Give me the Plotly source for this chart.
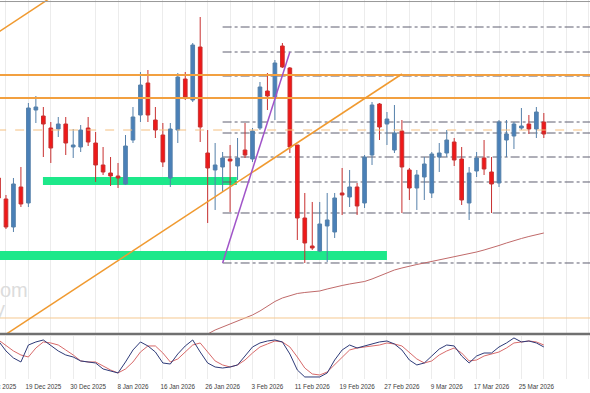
import plotly.graph_objects as go
import pandas as pd

# ---------------- data ----------------
holidays = ["2025-12-25", "2026-01-01"]
dates = [f"{d.day} {d.strftime('%b %Y')}" for d in pd.bdate_range("2025-12-11", "2026-03-26")
         if d.strftime("%Y-%m-%d") not in holidays]

tick_labels = ["11 Dec 2025", "19 Dec 2025", "30 Dec 2025", "8 Jan 2026", "16 Jan 2026",
               "26 Jan 2026", "3 Feb 2026", "11 Feb 2026", "19 Feb 2026", "27 Feb 2026",
               "9 Mar 2026", "17 Mar 2026", "25 Mar 2026"]

open_ = [222, 201, 173, 213, 197, 290, 284, 272, 271, 276, 253, 253, 272, 257, 235, 227, 224, 216,
         260, 285, 317, 280, 265, 222, 270, 321, 300, 353, 247, 230, 233, 241, 234, 250, 241, 272,
         309, 302, 354, 332, 255, 182, 154, 149, 174, 168, 207, 203, 213, 197, 245, 296, 276, 250,
         269, 230, 212, 223, 207, 243, 247, 258, 241, 197, 229, 242, 228, 217, 260, 264, 272, 276,
         271, 278]
high = [225, 205, 222, 233, 297, 304, 293, 278, 283, 283, 271, 275, 283, 268, 253, 243, 237, 265,
        293, 328, 330, 293, 277, 277, 327, 328, 357, 383, 270, 257, 248, 255, 262, 277, 272, 318,
        327, 340, 357, 333, 255, 207, 198, 198, 207, 207, 232, 230, 217, 245, 298, 297, 288, 295,
        280, 232, 230, 243, 248, 257, 270, 262, 253, 233, 248, 260, 243, 280, 280, 278, 292, 285,
        293, 287]
low = [200, 171, 168, 193, 193, 277, 243, 237, 263, 245, 242, 248, 254, 218, 225, 214, 212, 215,
       257, 278, 278, 262, 233, 213, 257, 300, 298, 258, 177, 190, 208, 188, 220, 242, 238, 270,
       290, 280, 332, 247, 160, 137, 150, 148, 138, 162, 185, 193, 185, 192, 235, 260, 255, 247,
       187, 200, 190, 200, 202, 228, 243, 234, 195, 180, 223, 225, 187, 213, 243, 251, 270, 266,
       262, 262]
close = [202, 173, 216, 196, 292, 293, 276, 252, 276, 257, 255, 270, 258, 235, 228, 224, 222, 254,
         283, 315, 285, 270, 238, 271, 323, 303, 355, 273, 232, 235, 242, 239, 242, 245, 269, 313,
         304, 337, 333, 253, 182, 157, 152, 176, 180, 202, 205, 213, 194, 243, 295, 273, 281, 267,
         233, 212, 225, 236, 246, 247, 260, 240, 200, 227, 242, 231, 216, 278, 266, 276, 274, 271,
         288, 266]

ma_start = "19 Jan 2026"
ma_values = [58, 60, 63, 66, 70, 73, 76, 79, 81.5, 85, 89, 94, 98.5, 102, 104.5, 106.5, 107.5, 108,
             109, 111, 113, 114.5, 116, 117, 118.5, 121, 124, 127.5, 130, 132, 134, 135.5, 137,
             138.5, 140, 142, 143.5, 145, 146.5, 148, 150, 152, 154.5, 157, 159.5, 161.5, 163.5,
             165.5, 167]

stoch_k = [89.1, 67.4, 52.2, 43.5, 80.4, 87.0, 91.3, 78.3, 67.4, 58.7, 54.3, 45.7, 43.5, 41.3, 28.3,
           23.9, 19.6, 43.5, 69.6, 87.0, 78.3, 65.2, 41.3, 39.1, 60.9, 78.3, 91.3, 65.2, 41.3, 32.6,
           30.4, 32.6, 37.0, 56.5, 76.1, 84.8, 89.1, 91.3, 87.0, 60.9, 26.1, 10.9, 10.9, 10.9, 19.6,
           47.8, 69.6, 80.4, 73.9, 78.3, 82.6, 87.0, 89.1, 82.6, 69.6, 47.8, 37.0, 41.3, 56.5, 71.7,
           80.4, 78.3, 56.5, 41.3, 56.5, 63.0, 63.0, 76.1, 84.8, 95.7, 87.0, 89.1, 84.8, 76.1]
stoch_d = [91.3, 78.3, 67.4, 58.7, 54.3, 73.9, 87.0, 84.8, 80.4, 69.6, 58.7, 45.7, 43.5, 43.5, 34.8,
           26.1, 19.6, 28.3, 43.5, 65.2, 78.3, 78.3, 63.0, 43.5, 50.0, 65.2, 80.4, 84.8, 65.2, 45.7,
           37.0, 32.6, 37.0, 47.8, 63.0, 76.1, 82.6, 89.1, 87.0, 76.1, 54.3, 30.4, 17.4, 15.2, 21.7,
           37.0, 54.3, 69.6, 73.9, 76.1, 78.3, 80.4, 84.8, 82.6, 78.3, 65.2, 50.0, 41.3, 45.7, 58.7,
           67.4, 73.9, 63.0, 45.7, 47.8, 56.5, 60.9, 65.2, 73.9, 84.8, 87.0, 89.1, 87.0, 80.4]

# drawn objects (bar index, price)
orange_levels = [325, 302]
orange_dashed_level = 270
orange_thin_level = 82
fib_start_index = 30
fib_levels = [373, 348, 324, 302, 278, 267, 243, 218, 187, 137]
green_zones = [(5.95, 31.9, 215, 223), (-2, 52.0, 140, 149)]
purple_line = (30, 137, 39, 348)
channel_lines = [(0.0, 60.8, 54.0, 326), (-1, 363, 12, 427)]
watermark = [("com", 110), ("y", 91)]

# ---------------- figure ----------------
x = list(range(len(dates)))
ma_x = x[dates.index(ma_start):][:len(ma_values)]
tickvals = [dates.index(t) for t in tick_labels]

BLUE = "#4a80b8"
RED = "#f01818"
LABEL_FONT = dict(family="Liberation Sans, Arial", size=6.3, color="#404040")

fig = go.Figure()
fig.add_trace(go.Candlestick(
    x=x, open=open_, high=high, low=low, close=close,
    increasing=dict(line=dict(color="#5580aa", width=1), fillcolor=BLUE),
    decreasing=dict(line=dict(color="#c83030", width=1), fillcolor=RED),
    whiskerwidth=0, showlegend=False, hoverinfo="skip",
    xaxis="x", yaxis="y"))
fig.add_trace(go.Scatter(x=ma_x, y=ma_values, mode="lines",
                         line=dict(color="#c06a6a", width=1), showlegend=False,
                         xaxis="x", yaxis="y"))
fig.add_trace(go.Scatter(x=x, y=stoch_d, mode="lines", line=dict(color="#d86a6a", width=1),
                         showlegend=False, xaxis="x2", yaxis="y2"))
fig.add_trace(go.Scatter(x=x, y=stoch_k, mode="lines", line=dict(color="#2e3a78", width=1),
                         showlegend=False, xaxis="x2", yaxis="y2"))

shapes = []
for x0, x1, y0, y1 in green_zones:
    shapes.append(dict(type="rect", xref="x", yref="y", x0=x0, x1=x1, y0=y0, y1=y1,
                       fillcolor="#1de88a", line=dict(width=0), layer="between"))
for lv in fib_levels:
    shapes.append(dict(type="line", xref="x", yref="y", x0=fib_start_index, x1=90, y0=lv, y1=lv,
                       line=dict(color="#5e5e70", width=1, dash="dashdot"), layer="between"))
for lv in orange_levels:
    shapes.append(dict(type="line", xref="x", yref="y", x0=-5, x1=90, y0=lv, y1=lv,
                       line=dict(color="#f2a040", width=2)))
shapes.append(dict(type="line", xref="x", yref="y", x0=-5, x1=90, y0=orange_dashed_level,
                   y1=orange_dashed_level, line=dict(color="#f5c080", width=1, dash="dash")))
shapes.append(dict(type="line", xref="x", yref="y", x0=-5, x1=90, y0=orange_thin_level,
                   y1=orange_thin_level, line=dict(color="#f5c890", width=1)))
for x0, y0, x1, y1 in channel_lines:
    shapes.append(dict(type="line", xref="x", yref="y", x0=x0, y0=y0, x1=x1, y1=y1,
                       line=dict(color="#f09a30", width=1.5)))
px0, py0, px1, py1 = purple_line
shapes.append(dict(type="line", xref="x", yref="y", x0=px0, y0=py0, x1=px1, y1=py1,
                   line=dict(color="#a054c8", width=1.5)))
# panel borders
shapes.append(dict(type="line", xref="paper", yref="paper", x0=0, x1=1, y0=0.996, y1=0.996,
                   line=dict(color="#999999", width=1)))
shapes.append(dict(type="rect", xref="paper", yref="paper", x0=-0.01, x1=1.01, y0=0.1153,
                   y1=0.1222, fillcolor="#707070", line=dict(width=0)))

grid = dict(showgrid=True, gridcolor="#ececec", gridwidth=1, tick0=1, dtick=3)
xr = [0.2, 79.18]
fig.update_layout(
    width=590, height=393, margin=dict(l=0, r=0, t=0, b=14, autoexpand=False),
    paper_bgcolor="white", plot_bgcolor="white",
    shapes=shapes,
    xaxis=dict(range=xr, anchor="y", showticklabels=False, showgrid=False, zeroline=False,
               rangeslider=dict(visible=False), minor=grid, ticks="", automargin=False),
    yaxis=dict(domain=[0.1214, 1], range=[67, 400], showticklabels=False, showgrid=False,
               zeroline=False, automargin=False),
    xaxis2=dict(range=xr, anchor="y2", tickmode="array", tickvals=tickvals, ticktext=tick_labels,
                showgrid=False, zeroline=False, minor=grid, ticks="", automargin=False,
                ticklabelstandoff=3, tickfont=LABEL_FONT),
    yaxis2=dict(domain=[0, 0.1135], range=[6.5, 100], showticklabels=False, showgrid=False,
                zeroline=False, automargin=False),
    hovermode=False,
)
# first date label sits half outside the left edge, as in the source
span = xr[1] - xr[0]
fig.add_annotation(x=(tickvals[0] - xr[0]) / span, y=-7 / 379, xref="paper", yref="paper",
                   xanchor="center", yanchor="middle", text=tick_labels[0], showarrow=False,
                   font=LABEL_FONT)
for txt, yv in watermark:
    fig.add_annotation(x=30 / 590 if txt == "com" else 7 / 590, y=yv, xref="paper", yref="y",
                       xanchor="right", yanchor="middle", text=txt, showarrow=False,
                       font=dict(family="Liberation Sans, Arial", size=20, color="#dcdcdc"))

fig.write_html("out.html", config={"displayModeBar": False, "staticPlot": True},
               post_script="document.body.style.margin='0';")
